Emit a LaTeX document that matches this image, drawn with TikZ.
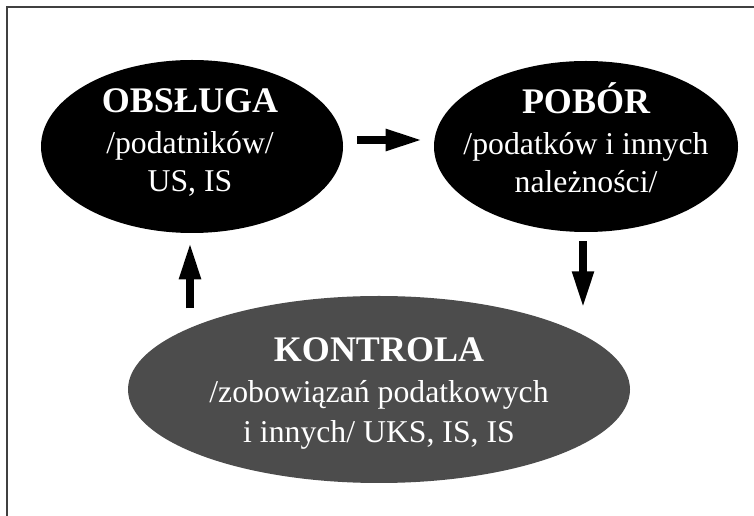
\documentclass[tikz,border=0pt]{standalone}
\usepackage{fontspec}
\setmainfont{Liberation Serif}
\usetikzlibrary{arrows.meta,calc,shapes.geometric}
\newcommand{\headfont}{\fontsize{27}{28.5}\bfseries\selectfont}
\begin{document}
\begin{tikzpicture}[x=0.75pt,y=-0.75pt,
  oval/.style={ellipse, draw=none, inner sep=0pt},
  lbl/.style={text=white, align=center, inner sep=0pt, anchor=base, font=\fontsize{23.8}{28.5}\selectfont},
  fat/.style={line width=6pt, -{Triangle[length=27.75pt,width=15pt]}},
  frame/.style={draw=black!75, line width=1.5pt}]
\useasboundingbox (0,0) rectangle (754,516);
\fill[white] (0,0) rectangle (754,516);
\draw[frame] (7,516) -- (7,7) -- (754,7);

\node[oval, fill=black, minimum width=226.5pt, minimum height=129.75pt] (obs) at (192,146.5) {};
\node[oval, fill=black, minimum width=228pt, minimum height=128.25pt] (pob) at (586,146.5) {};
\node[oval, fill=black!70, minimum width=376.5pt, minimum height=140.25pt] (kon) at (379,389.5) {};

\node[lbl] (obst) at (190,192) {{\headfont OBSŁUGA}\\[2.25pt] /podatników/\\ US, IS};
\node[lbl] (pobt) at (586,193) {{\headfont POBÓR}\\[2.25pt] /podatków i innych\\ należności/};
\node[lbl, font=\fontsize{23.8}{30}\selectfont] (kont) at (379,443) {{\headfont KONTROLA}\\[0.75pt] /zobowiązań podatkowych\\ i innych/ UKS, IS, IS};

\draw[fat] ($(obs.east)+(14,-6.5)$) -- ($(pob.west)+(-11,-6.5)$);
\draw[fat] ($(pob.south)+(-3,9)$) -- ($(pob.south)+(-3,76)$);
\draw[fat] ($(obs.south)+(-2,75)$) -- ($(obs.south)+(-2,9)$);
\end{tikzpicture}
\end{document}
